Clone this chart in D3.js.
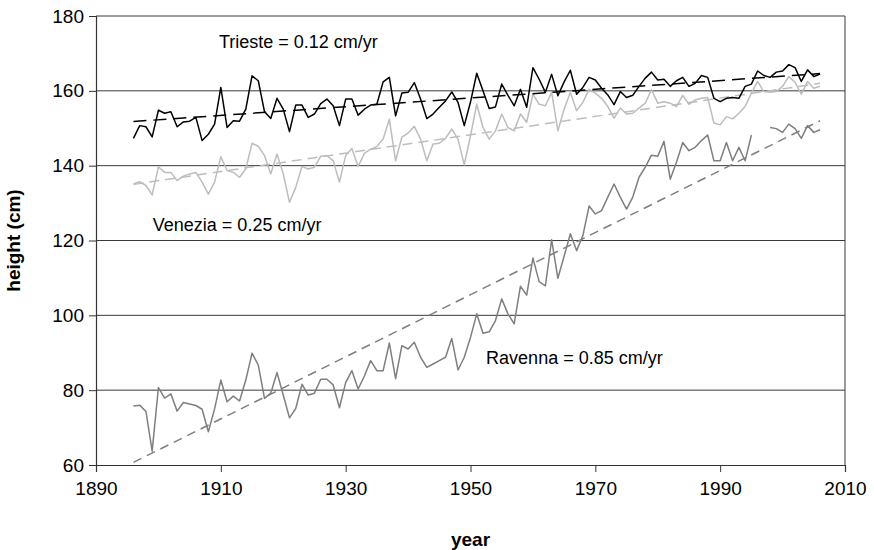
<!DOCTYPE html>
<html>
<head>
<meta charset="utf-8">
<script src="https://cdn.jsdelivr.net/npm/d3@7"></script>
<style>
  body { margin: 0; background: #fff; }
  svg { display: block; font-family: "Liberation Sans", Arial, sans-serif; }
</style>
</head>
<body>
<div id="chart"></div>
<script>
const firstYear = 1896;
const lastYear = 2006;
const years = d3.range(firstYear, lastYear + 1);

const trieste = [
  147.3, 150.7, 150.4, 147.7, 154.8, 154.0, 154.4, 150.4, 151.7, 151.9,
  152.9, 146.7, 148.4, 151.1, 160.9, 150.2, 152.0, 151.9, 155.1, 164.0,
  162.7, 154.4, 152.6, 158.0, 155.1, 149.1, 156.2, 156.2, 152.9, 153.8,
  156.6, 157.8, 156.0, 150.7, 157.8, 157.8, 153.5, 155.1, 156.2, 156.4,
  162.4, 163.6, 153.3, 159.4, 159.6, 162.2, 157.8, 152.6, 153.8, 155.6,
  157.3, 159.7, 156.9, 150.7, 157.0, 164.7, 160.0, 155.3, 155.7, 161.8,
  158.8, 156.0, 160.4, 155.6, 166.2, 163.1, 159.6, 164.4, 158.7, 162.4,
  165.5, 159.1, 160.9, 163.6, 162.9, 160.7, 158.9, 156.3, 159.8, 158.2,
  158.8, 161.2, 163.4, 165.0, 162.9, 163.1, 161.2, 162.7, 163.6, 161.2,
  162.0, 164.1, 163.6, 158.0, 157.1, 158.0, 158.2, 158.0, 161.2, 161.8,
  165.3, 164.1, 163.6, 165.0, 165.3, 167.0, 166.2, 162.5, 165.6, 163.8,
  164.5
];

const venezia = [
  135.1, 135.7, 134.7, 132.2, 139.7, 138.2, 138.2, 136.0, 137.2, 137.8,
  138.2, 135.6, 132.4, 135.6, 142.4, 138.7, 138.2, 136.9, 139.1, 146.0,
  145.2, 142.7, 137.8, 143.1, 137.8, 130.2, 134.2, 139.8, 139.1, 139.6,
  142.5, 142.7, 141.3, 135.6, 142.7, 144.6, 139.8, 143.3, 144.4, 145.1,
  147.1, 152.4, 141.3, 147.6, 148.7, 150.5, 147.1, 141.3, 145.8, 146.0,
  147.3, 149.8, 147.1, 140.2, 148.0, 156.4, 150.2, 147.1, 149.3, 153.8,
  150.2, 149.3, 153.8, 151.6, 159.1, 156.4, 156.0, 159.6, 149.3, 155.1,
  159.6, 154.7, 156.9, 160.4, 159.4, 158.0, 155.8, 152.7, 155.4, 153.8,
  154.0, 155.4, 156.7, 160.3, 156.7, 157.1, 156.7, 155.8, 158.8, 156.4,
  157.6, 158.0, 158.2, 151.4, 150.9, 153.1, 152.5, 154.0, 155.8, 159.4,
  162.5, 159.8, 159.6, 159.8, 161.2, 163.8, 162.3, 159.1, 162.5, 160.7,
  161.2
];

const ravenna = [
  75.8, 76.0, 74.3, 63.7, 80.7, 77.9, 79.0, 74.4, 76.7, 76.3,
  75.9, 74.9, 68.9, 75.0, 82.7, 76.9, 78.4, 77.1, 82.7, 89.9,
  86.7, 77.8, 79.2, 84.7, 78.7, 72.6, 75.1, 81.6, 78.7, 79.2,
  82.9, 82.9, 81.4, 75.3, 82.0, 85.2, 80.3, 83.8, 87.9, 85.2,
  85.2, 92.6, 83.1, 91.9, 91.0, 92.8, 88.8, 86.1, 87.0, 87.9,
  88.8, 93.8, 85.4, 88.8, 94.1, 100.4, 95.2, 95.6, 98.6, 104.4,
  100.4, 97.7, 107.8, 105.4, 115.3, 109.0, 107.9, 120.2, 109.9, 115.8,
  121.8, 117.3, 121.3, 129.2, 127.1, 128.0, 131.6, 135.1, 131.6, 128.4,
  131.6, 136.9, 139.6, 142.8, 142.5, 146.5, 136.4, 140.9, 146.2, 144.0,
  144.9, 146.7, 148.2, 141.3, 141.3, 146.2, 141.3, 144.9, 141.3, 148.2,
  null, null, 150.2, 149.9, 148.9, 151.1, 149.9, 147.3, 150.7, 148.9,
  149.6
];

// linear trend end values (first year, last year)
const triesteTrend = [151.8, 164.6];
const veneziaTrend = [135.0, 162.0];
const ravennaTrend = [60.7, 152.0];

const xTicks = [1890, 1910, 1930, 1950, 1970, 1990, 2010];
const yTicks = [60, 80, 100, 120, 140, 160, 180];

const labels = [
  { text: "Trieste = 0.12 cm/yr", year: 1909.7, value: 172.7 },
  { text: "Venezia = 0.25 cm/yr", year: 1899.1, value: 123.8 },
  { text: "Ravenna = 0.85 cm/yr", year: 1952.5, value: 88.2 }
];

const W = 874, H = 550;
const margin = { top: 16, right: 29, bottom: 85, left: 96 };
const width = W - margin.left - margin.right;
const height = H - margin.top - margin.bottom;

const svg = d3.select("#chart").append("svg")
  .attr("width", W)
  .attr("height", H);

const g = svg.append("g")
  .attr("transform", `translate(${margin.left},${margin.top})`);

const x = d3.scaleLinear().domain([1890, 2010]).range([0, width]);
const y = d3.scaleLinear().domain([60, 180]).range([height, 0]);

// gridlines
g.append("g")
  .selectAll("line")
  .data(yTicks.slice(1))
  .enter().append("line")
    .attr("x1", 0)
    .attr("x2", width)
    .attr("y1", d => y(d))
    .attr("y2", d => y(d))
    .attr("stroke", "#3a3a3a")
    .attr("stroke-width", 1);

// right border
g.append("line")
  .attr("x1", width).attr("x2", width)
  .attr("y1", 0).attr("y2", height)
  .attr("stroke", "#3a3a3a");

const xAxis = g.append("g")
  .attr("transform", `translate(0,${height})`)
  .call(d3.axisBottom(x).tickValues(xTicks).tickFormat(d3.format("d")).tickSize(7).tickPadding(10));

const yAxis = g.append("g")
  .call(d3.axisLeft(y).tickValues(yTicks).tickSize(7).tickPadding(5));

[xAxis, yAxis].forEach(a => {
  a.select(".domain").attr("stroke", "#333").attr("stroke-width", 1.2);
  a.selectAll(".tick line").attr("stroke", "#333");
  a.selectAll("text")
    .attr("fill", "#000")
    .style("font-size", "19px")
    .style("font-family", "'Liberation Sans', Arial, sans-serif");
});

const line = d3.line()
  .defined(d => d[1] !== null)
  .x(d => x(d[0]))
  .y(d => y(d[1]));

const series = [
  { values: ravenna, trend: ravennaTrend, color: "#7f7f7f", dash: "9,6" },
  { values: venezia, trend: veneziaTrend, color: "#bdbdbd", dash: "10,6" },
  { values: trieste, trend: triesteTrend, color: "#000000", dash: "13,7" }
];

series.forEach(s => {
  g.append("path")
    .datum([[firstYear, s.trend[0]], [lastYear, s.trend[1]]])
    .attr("fill", "none")
    .attr("stroke", s.color)
    .attr("stroke-width", 1.5)
    .attr("stroke-dasharray", s.dash)
    .attr("d", line);

  g.append("path")
    .datum(years.map((yr, i) => [yr, s.values[i]]))
    .attr("fill", "none")
    .attr("stroke", s.color)
    .attr("stroke-width", 1.5)
    .attr("stroke-linejoin", "round")
    .attr("d", line);
});

g.selectAll(".rate")
  .data(labels)
  .enter().append("text")
    .attr("class", "rate")
    .attr("x", d => x(d.year))
    .attr("y", d => y(d.value))
    .attr("dominant-baseline", "middle")
    .style("font-size", "18px")
    .attr("fill", "#000")
    .text(d => d.text);

svg.append("text")
  .attr("x", margin.left + width / 2)
  .attr("y", 546)
  .attr("text-anchor", "middle")
  .style("font-size", "19px")
  .style("font-weight", "bold")
  .text("year");

svg.append("text")
  .attr("transform", `translate(20,${margin.top + height / 2}) rotate(-90)`)
  .attr("text-anchor", "middle")
  .style("font-size", "19px")
  .style("font-weight", "bold")
  .text("height (cm)");
</script>
</body>
</html>
